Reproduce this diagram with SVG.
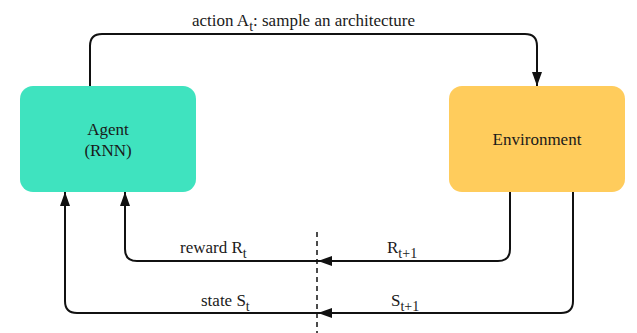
<svg xmlns="http://www.w3.org/2000/svg" width="637" height="333" viewBox="0 0 637 333">
<defs>
<style>
text{font-family:"Liberation Serif","Times New Roman",serif;font-size:17px;fill:#1a1a1a}
.c{stroke:#111;stroke-width:2;fill:none}
.d{stroke:#111;stroke-width:1.5;fill:none;stroke-dasharray:5,4}
.sub{font-size:14px}
</style>
<marker id="ah" viewBox="0 0 14 10" refX="14" refY="5" markerWidth="14" markerHeight="10" markerUnits="userSpaceOnUse" orient="auto">
<path d="M0,0 L14,5 L0,10 z" fill="#111"/>
</marker>
</defs>
<rect width="637" height="333" fill="#fff"/>
<g id="agent" font-family="Liberation Serif, serif">
<rect x="20" y="86" width="176" height="106" rx="13" fill="#3FE3BF"/>
<text x="108" y="135" text-anchor="middle">Agent</text>
<text x="108" y="156" text-anchor="middle">(RNN)</text>
</g>
<g id="environment" font-family="Liberation Serif, serif">
<rect x="449" y="86" width="176" height="106" rx="13" fill="#FFCC5C"/>
<text x="537" y="145" text-anchor="middle">Environment</text>
</g>
<g id="connectors">
<path class="c" d="M90,86 V46 Q90,34 102,34 H525 Q537,34 537,46 V86" marker-end="url(#ah)"/>
<path class="c" d="M510,192 V249 Q510,261 498,261 H318" marker-end="url(#ah)"/>
<path class="c" d="M318,261 H137 Q125,261 125,249 V192" marker-end="url(#ah)"/>
<path class="c" d="M573,192 V301 Q573,313 561,313 H318" marker-end="url(#ah)"/>
<path class="c" d="M318,313 H77 Q65,313 65,301 V192" marker-end="url(#ah)"/>
<line class="d" x1="317" y1="232" x2="317" y2="333"/>
</g>
<g id="labels" font-family="Liberation Serif, serif">
<text x="192" y="26">action A<tspan class="sub" dy="5">t</tspan><tspan dy="-5">: sample an architecture</tspan></text>
<text x="180" y="253">reward R<tspan class="sub" dy="5">t</tspan></text>
<text x="387" y="253">R<tspan class="sub" dy="5">t+1</tspan></text>
<text x="201" y="306">state S<tspan class="sub" dy="5">t</tspan></text>
<text x="391" y="306">S<tspan class="sub" dy="5">t+1</tspan></text>
</g>
</svg>
